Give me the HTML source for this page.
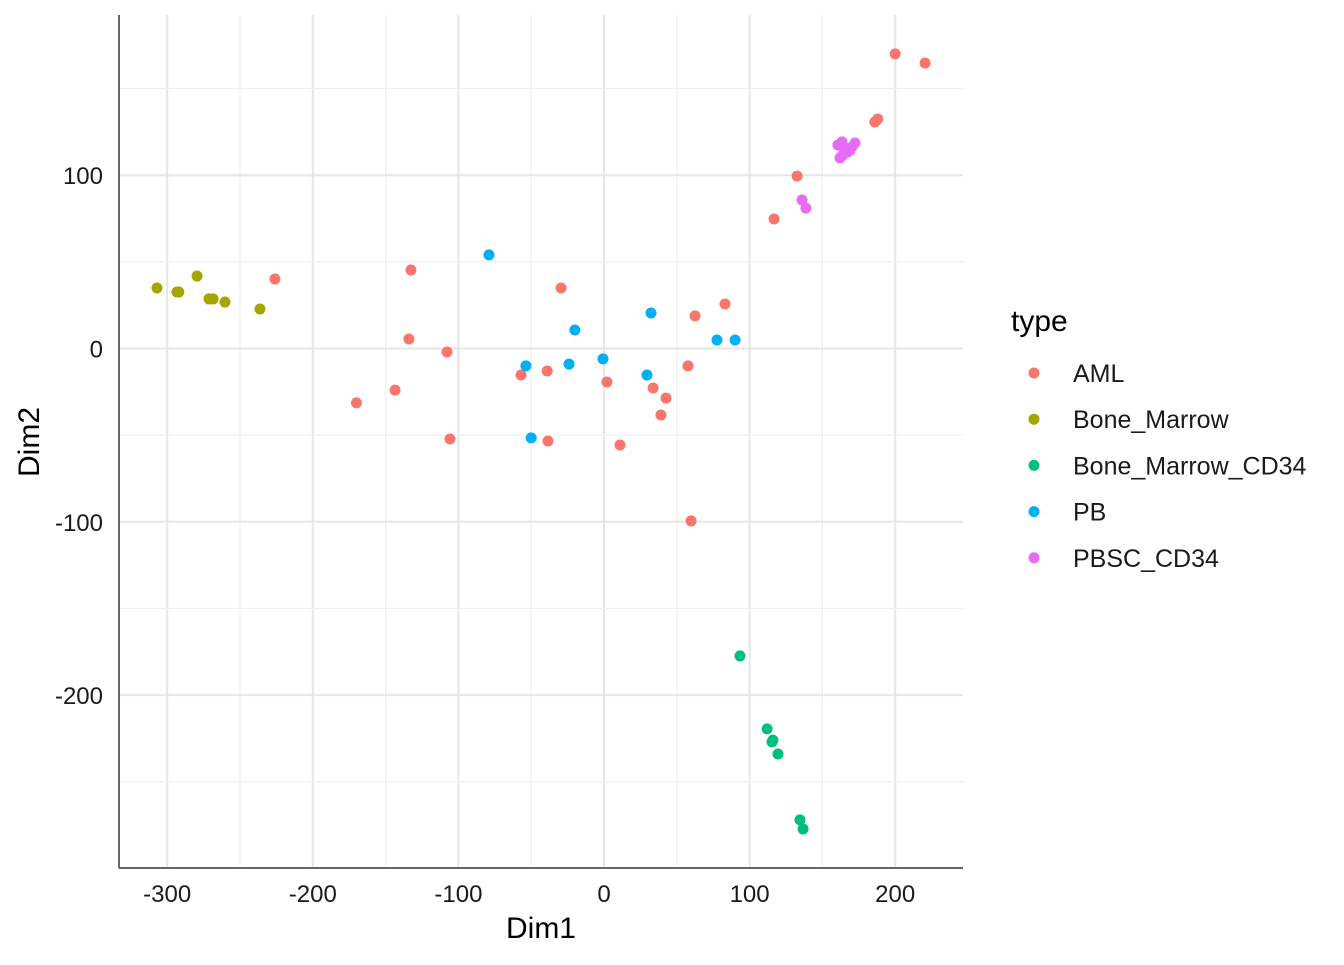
<!DOCTYPE html>
<html><head><meta charset="utf-8"><style>
body{margin:0;background:#fff;font-family:"Liberation Sans",Arial,sans-serif;}
svg text{font-family:"Liberation Sans",Arial,sans-serif;}
</style></head><body>
<svg id="chart" width="1344" height="960" xmlns="http://www.w3.org/2000/svg">
<rect width="1344" height="960" fill="#fff"/>
<g id="grid"></g><g id="axes"></g><g id="points"></g><g id="legend"></g>
</svg>
<script>
const categories=["AML","Bone_Marrow","Bone_Marrow_CD34","PB","PBSC_CD34"];
const colors=["#F8766D","#A3A500","#00BF7D","#00B0F6","#E76BF3"];
const xTicks=[-300,-200,-100,0,100,200];
const yTicks=[-200,-100,0,100];
const amlX=[200,220.5,186,188,132.6,116.8,-226,-132.6,-29.5,83.1,62.5,-134,-107.8,57.7,-57,-39,2,33.7,42.6,39.1,-143.5,-170,-105.8,-38.5,11,59.8];
const amlY=[170,164.7,130.7,132.4,99.5,74.7,40.1,45.3,34.9,25.7,18.8,5.5,-2,-10,-15.3,-13,-19.3,-22.8,-28.6,-38.4,-24,-31.4,-52.2,-53.4,-55.7,-99.5];
const bmX=[-307,-293.3,-292,-279.5,-271.3,-268.5,-260.3,-236.3];
const bmY=[34.9,32.6,32.6,41.8,28.6,28.6,26.8,22.8];
const bmcX=[93.4,112,115.4,116,119.5,134.6,136.7];
const bmcY=[-177.4,-219.5,-227,-226,-234,-272,-277.3];
const pbX=[-79,-20,32.3,77.6,90,-0.7,-53.6,-24,29.5,-50];
const pbY=[54,10.7,20.5,4.9,4.9,-6,-10,-9,-15.3,-51.6];
const pbscX=[136,138.7,162.1,163.5,160.7,165.5,169,172.4,167.6,164.1,170.3];
const pbscY=[85.7,81,109.9,119.2,117.4,115.7,114.5,118.6,113.4,111.7,116.3];
const seriesX=[amlX,bmX,bmcX,pbX,pbscX];
const seriesY=[amlY,bmY,bmcY,pbY,pbscY];

const L=119,R=963,T=15,B=868;
const sx=v=>604+v*1.456;
const sy=v=>348.5-v*1.733;
const NS="http://www.w3.org/2000/svg";
function mk(tag,attrs,parent){const e=document.createElementNS(NS,tag);for(const k in attrs)e.setAttribute(k,attrs[k]);parent.appendChild(e);return e;}
const grid=document.getElementById('grid'),axes=document.getElementById('axes'),pts=document.getElementById('points'),leg=document.getElementById('legend');
for(let v=-300;v<=200;v+=50){const major=v%100===0;
 const l=mk('line',{x1:sx(v),x2:sx(v),y1:T,y2:B,stroke:major?'#e6e6e6':'#f0f0f0','stroke-width':major?2:1.2},grid);
 
 }
for(let v=-250;v<=150;v+=50){const major=v%100===0;
 const l=mk('line',{x1:L,x2:R,y1:sy(v),y2:sy(v),stroke:major?'#e6e6e6':'#f0f0f0','stroke-width':major?2:1.2},grid);
 
 }
let a=mk('line',{x1:L,x2:L,y1:T,y2:B,stroke:'#666','stroke-width':2},axes);


a=mk('line',{x1:L,x2:R,y1:B,y2:B,stroke:'#666','stroke-width':2},axes);


xTicks.forEach(v=>{
 const t=mk('text',{x:sx(v),y:B+34,'text-anchor':'middle','font-size':24,fill:'#1a1a1a'},axes);t.textContent=v;
 
 });
yTicks.forEach(v=>{
 const t=mk('text',{x:L-16,y:sy(v)+9,'text-anchor':'end','font-size':24,fill:'#1a1a1a'},axes);t.textContent=v;
 
 });
let t=mk('text',{x:541,y:938,'text-anchor':'middle','font-size':30,fill:'#000'},axes);t.textContent='Dim1';


t=mk('text',{x:0,y:0,'text-anchor':'middle','font-size':30,fill:'#000',transform:'translate(39,442) rotate(-90)'},axes);t.textContent='Dim2';


seriesX.forEach((xs,i)=>xs.forEach((x,j)=>{
 const c=mk('circle',{cx:sx(x),cy:sy(seriesY[i][j]),r:5.5,fill:colors[i]},pts);
 
 }));
t=mk('text',{x:1011,y:331,'font-size':30,fill:'#000'},leg);t.textContent='type';


categories.forEach((c,i)=>{const y=373+i*46.2;
 const g=mk('g',{},leg);
 
 
 mk('circle',{cx:1034,cy:y,r:5.5,fill:colors[i]},g);
 const tt=mk('text',{x:1073,y:y+9,'font-size':25,fill:'#1a1a1a'},g);tt.textContent=c;});
</script>
</body></html>
